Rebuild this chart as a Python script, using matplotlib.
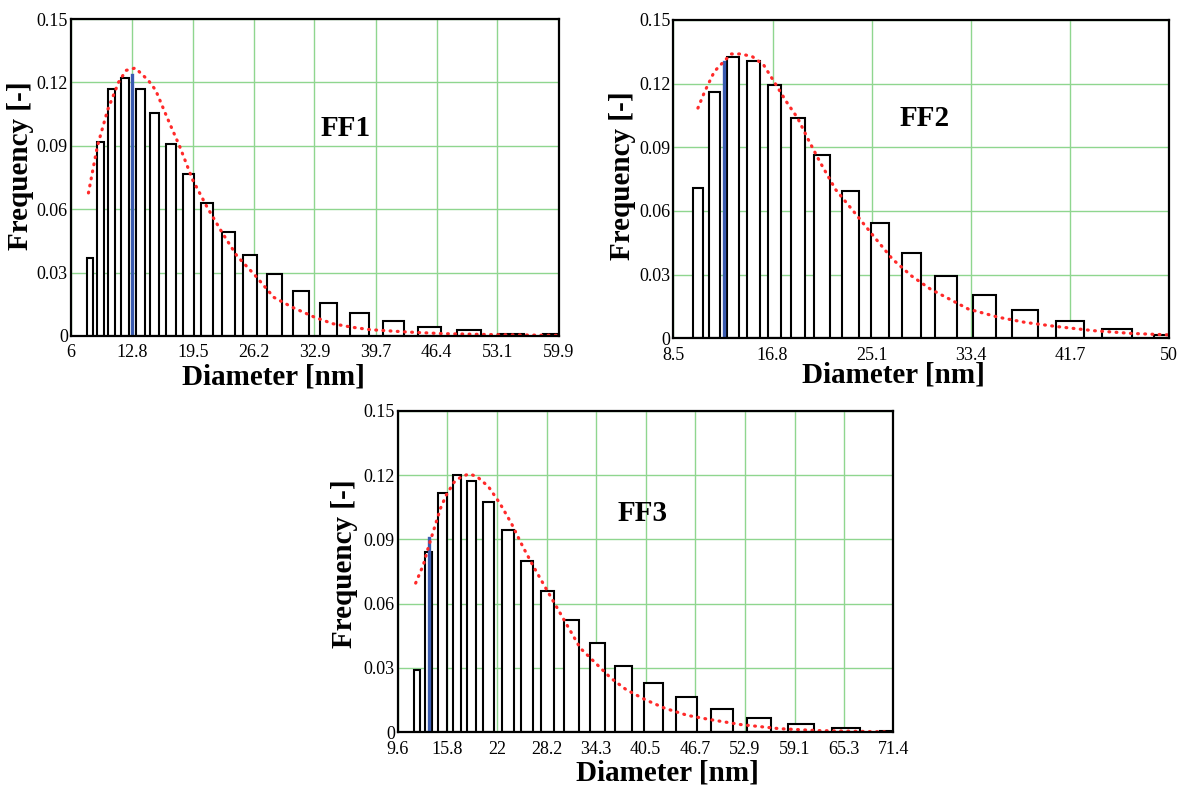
import numpy as np
import matplotlib
matplotlib.use("Agg")
import matplotlib.pyplot as plt

plt.rcParams['font.family'] = ['Liberation Serif', 'DejaVu Serif']

# ---------------- data ----------------
# FF1
ff1_d = [8.10, 9.26, 10.53, 12.01, 13.69, 15.28, 17.07, 19.01, 21.04, 23.37,
         25.80, 28.53, 31.42, 34.44, 37.90, 41.61, 45.61, 49.99, 54.64, 59.6]
ff1_f = [0.037, 0.0917, 0.1168, 0.1223, 0.1168, 0.1057, 0.0909, 0.0765, 0.0627, 0.0494,
         0.0382, 0.0293, 0.0215, 0.0154, 0.0110, 0.0071, 0.0042, 0.0028, 0.0008, 0.0008]
ff1_fit_x = [7.96, 8.94, 10.08, 11.3, 12.12, 13.13, 14.56, 15.38, 16.6, 18.03, 19.45,
             21.09, 22.72, 24.35, 26.39, 28.42, 30.46, 32.91, 34.95, 36.99, 39.03,
             43.1, 47.2, 53.3, 59.8]
ff1_fit_y = [0.0677, 0.0897, 0.107, 0.1202, 0.1257, 0.1268, 0.121, 0.1163, 0.1038, 0.0897,
             0.074, 0.0607, 0.0489, 0.0379, 0.0285, 0.0183, 0.0136, 0.0089, 0.0058, 0.0042,
             0.003, 0.0019, 0.0011, 0.0006, 0.0003]
ff1_mark = (12.81, 0.1234)
ff1_ticks = ['6', '12.8', '19.5', '26.2', '32.9', '39.7', '46.4', '53.1', '59.9']

# FF2
ff2_d = [10.59, 11.94, 13.47, 15.21, 16.96, 18.95, 20.94, 23.33, 25.81, 28.43,
         31.30, 34.53, 37.91, 41.67, 45.62, 50.1]
ff2_f = [0.0708, 0.1162, 0.1326, 0.1307, 0.1195, 0.1037, 0.0863, 0.0695, 0.0543, 0.0402,
         0.0294, 0.0204, 0.0132, 0.0083, 0.0042, 0.0016]
ff2_fit_x = [10.56, 11.13, 11.93, 12.72, 13.35, 14.15, 15.1, 16.05, 17.0, 17.95, 18.9,
             19.86, 20.81, 22.08, 23.67, 25.25, 26.84, 28.43, 30.01, 31.6, 33.18, 35.72,
             37.94, 40.48, 43.65, 46.83, 50.0]
ff2_fit_y = [0.1085, 0.1163, 0.1257, 0.1304, 0.134, 0.134, 0.1328, 0.1289, 0.1203, 0.1116,
             0.1038, 0.0929, 0.0827, 0.0701, 0.0592, 0.0482, 0.0373, 0.0294, 0.0232, 0.0185,
             0.0138, 0.0099, 0.0075, 0.0056, 0.0036, 0.0023, 0.0016]
ff2_mark = (12.72, 0.1301)
ff2_ticks = ['8.5', '16.8', '25.1', '33.4', '41.7', '50']

# FF3
ff3_d = [12.01, 13.44, 15.16, 17.0, 18.83, 20.91, 23.34, 25.73, 28.31, 31.29,
         34.51, 37.78, 41.5, 45.61, 50.07, 54.67, 59.9, 65.46, 71.5]
ff3_f = [0.029, 0.0839, 0.1118, 0.120, 0.1172, 0.1076, 0.0943, 0.0798, 0.0658, 0.0526,
         0.0415, 0.0311, 0.0228, 0.0165, 0.0109, 0.0068, 0.0039, 0.0019, 0.0005]
ff3_fit_x = [11.84, 12.8, 13.51, 14.23, 14.94, 15.66, 16.62, 17.57, 18.52, 19.48, 20.91,
             22.34, 23.77, 25.2, 26.64, 28.07, 29.5, 30.93, 32.36, 34.27, 36.18, 38.09,
             40.48, 42.86, 45.72, 48.59, 52.4, 57.18, 61.95, 70.54]
ff3_fit_y = [0.0696, 0.0781, 0.0874, 0.096, 0.1045, 0.1107, 0.1166, 0.1193, 0.1205, 0.1193,
             0.1146, 0.1068, 0.0975, 0.0866, 0.0766, 0.0672, 0.0579, 0.0486, 0.0393, 0.0323,
             0.0253, 0.0199, 0.0152, 0.0113, 0.0079, 0.0059, 0.0036, 0.0017, 0.0008, 0.0002]
ff3_mark = (13.51, 0.0905)
ff3_ticks = ['9.6', '15.8', '22', '28.2', '34.3', '40.5', '46.7', '52.9', '59.1', '65.3', '71.4']

yticks = [0, 0.03, 0.06, 0.09, 0.12, 0.15]
ytick_labels = ['0', '0.03', '0.06', '0.09', '0.12', '0.15']

# ---------------- figure ----------------
W, H = 1183, 791
fig = plt.figure(figsize=(W / 100, H / 100), dpi=100)


def px_axes(l, r, t, b):
    return fig.add_axes([l / W, 1 - b / H, (r - l) / W, (b - t) / H])


def panel(ax, d, f, fx, fy, mark, ticks, name, name_xy):
    d = np.asarray(d)
    widths = 0.6 * np.gradient(d)
    xt = [float(t) for t in ticks]
    ax.set_xlim(xt[0], xt[-1])
    ax.set_ylim(0, 0.15)
    ax.set_xticks(xt)
    ax.set_xticklabels(ticks)
    ax.set_yticks(yticks)
    ax.set_yticklabels(ytick_labels)
    ax.grid(True, color='#8fd68f', lw=1.0)
    ax.set_axisbelow(True)
    ax.bar(d, f, width=widths, facecolor='white', edgecolor='black', linewidth=1.5, zorder=2)
    ax.plot([mark[0], mark[0]], [0, mark[1]], color='#3a5bb0', lw=2.4, zorder=3)
    ax.plot(fx, fy, color='#ff2a2a', lw=2.3, dashes=(0.25, 2.0),
            dash_capstyle='round', zorder=4)
    ax.tick_params(axis='y', length=0, labelsize=13, pad=2)
    ax.tick_params(axis='x', length=0, labelsize=13, pad=6)
    for s in ax.spines.values():
        s.set_linewidth(1.6)
        s.set_zorder(5)
    ax.text(name_xy[0], name_xy[1], name, fontsize=21, fontweight='bold',
            ha='center', va='center')


ax1 = px_axes(70.7, 559, 19, 336)
panel(ax1, ff1_d, ff1_f, ff1_fit_x, ff1_fit_y, ff1_mark, ff1_ticks, 'FF1', (36.3, 0.098))
ax2 = px_axes(673.3, 1169.3, 20, 338.3)
panel(ax2, ff2_d, ff2_f, ff2_fit_x, ff2_fit_y, ff2_mark, ff2_ticks, 'FF2', (29.5, 0.1038))
ax3 = px_axes(397.7, 893.3, 410.7, 732.3)
panel(ax3, ff3_d, ff3_f, ff3_fit_x, ff3_fit_y, ff3_mark, ff3_ticks, 'FF3', (40.1, 0.1022))

lab_kw = dict(fontsize=21, fontweight='bold', ha='center', va='center')
for (xx, yy) in [(273, 377), (893, 375), (667, 773)]:
    fig.text(xx / W, 1 - yy / H, 'Diameter [nm]', **lab_kw)
for (xx, yy) in [(21, 166), (622, 176), (344, 564)]:
    fig.text(xx / W, 1 - yy / H, 'Frequency [-]', rotation=90, **lab_kw)

fig.savefig('out.png', dpi=100, facecolor='white')
